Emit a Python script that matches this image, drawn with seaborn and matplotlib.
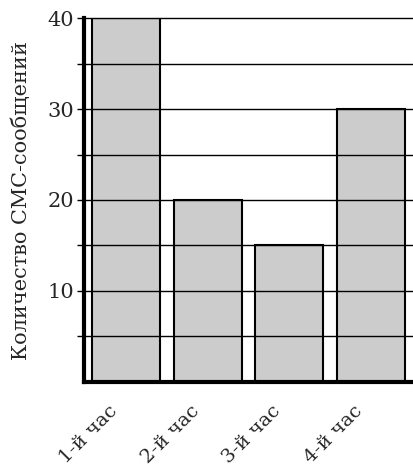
import matplotlib
matplotlib.use("Agg")
import matplotlib.pyplot as plt
import matplotlib.transforms as mtransforms
import seaborn as sns
import pandas as pd

hours = ["1-й час", "2-й час", "3-й час", "4-й час"]
sms_counts = [40, 20, 15, 30]
y_ticks = [5, 10, 15, 20, 25, 30, 35, 40]
y_tick_labels = ["", "10", "", "20", "", "30", "", "40"]

sns.set_style("white")
plt.rcParams["font.family"] = ["DejaVu Serif", "DejaVu Sans"]

df = pd.DataFrame({"hour": hours, "count": sms_counts})

fig = plt.figure(figsize=(4.14, 4.67), dpi=100)
ax = fig.add_axes([84 / 414, 1 - 381.5 / 467, 330 / 414, 363 / 467])

sns.barplot(data=df, x="hour", y="count", color="#cccccc", edgecolor="black",
            linewidth=1.5, width=0.835, saturation=1, ax=ax, zorder=2)

# grid lines sit on top of the bars in the original
for t in y_ticks:
    ax.axhline(t, color="black", lw=1.0, zorder=3, clip_on=False)

ax.set_xlim(-0.515, 3.53)
ax.set_ylim(0, 40)
ax.set_yticks(y_ticks)
ax.set_yticklabels(y_tick_labels, fontsize=15)
ax.tick_params(axis="y", length=5, width=1, color="black", pad=2, left=True)
ax.tick_params(axis="x", length=0, pad=19)
ax.set_xticks(range(len(hours)))
ax.set_xticklabels(hours, rotation=45, ha="right", va="center",
                   rotation_mode="anchor", fontsize=14)
shift = mtransforms.ScaledTranslation(-11 / 100, 0, fig.dpi_scale_trans)
for lbl in ax.get_xticklabels():
    lbl.set_transform(lbl.get_transform() + shift)

ax.set_xlabel("")
ax.set_ylabel("Количество СМС-сообщений", fontsize=15, labelpad=12)

for side in ["top", "right"]:
    ax.spines[side].set_visible(False)
ax.spines["left"].set_linewidth(3)
ax.spines["bottom"].set_linewidth(3)
ax.spines["left"].set_color("black")
ax.spines["bottom"].set_color("black")
ax.spines["left"].set_zorder(4)
ax.spines["bottom"].set_zorder(4)

fig.savefig("out.png", dpi=100)
